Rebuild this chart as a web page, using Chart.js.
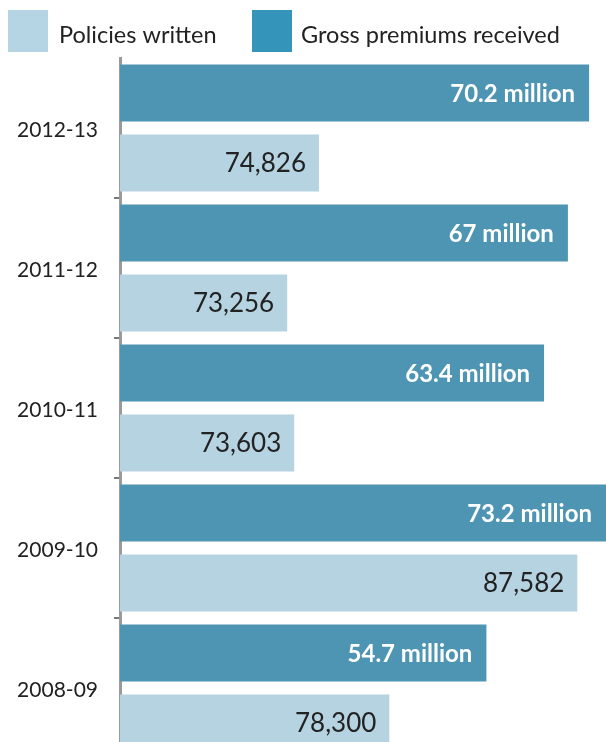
<!DOCTYPE html>
<html>
<head>
<meta charset="utf-8">
<script src="https://cdn.jsdelivr.net/npm/chart.js@4.4.1/dist/chart.umd.min.js"></script>
<style>
  html, body { margin: 0; padding: 0; background: #ffffff; overflow: hidden; }
  #wrap { position: relative; width: 606px; height: 742px; overflow: hidden; }
  canvas { display: block; }
</style>
</head>
<body>
<div id="wrap"><canvas id="c" width="606" height="758"></canvas></div>
<script>
// ---- data ----
const years = ['2012-13', '2011-12', '2010-11', '2009-10', '2008-09'];
const grossPremiumsMillion = [70.2, 67, 63.4, 73.2, 54.7];
const policiesWritten = [74826, 73256, 73603, 87582, 78300];
const seriesNames = ['Gross premiums received', 'Policies written'];
const legendOrder = ['Policies written', 'Gross premiums received'];

// ---- styles ----
const FONT = 'Lato, "Noto Sans", sans-serif';
const darkBar = '#4e95b4';
const lightBar = '#b5d3e1';
const legendColors = { 'Policies written': '#b5d5e5', 'Gross premiums received': '#3594b9' };
const DARK_MIN = -0.6;

const legendPlugin = {
  id: 'customLegend',
  afterDraw(chart) {
    const ctx = chart.ctx;
    ctx.save();
    const items = [
      { name: legendOrder[0], box: [8, 10, 40, 42], tx: 59 },
      { name: legendOrder[1], box: [252, 10, 40, 42], tx: 301 }
    ];
    ctx.font = '23.5px ' + FONT;
    ctx.textBaseline = 'alphabetic';
    ctx.textAlign = 'left';
    items.forEach(it => {
      ctx.fillStyle = legendColors[it.name];
      ctx.fillRect(it.box[0], it.box[1], it.box[2], it.box[3]);
      ctx.fillStyle = '#222222';
      ctx.fillText(it.name, it.tx, 43);
    });
    ctx.restore();
  }
};

const valueLabels = {
  id: 'valueLabels',
  afterDatasetsDraw(chart) {
    const ctx = chart.ctx;
    ctx.save();
    ctx.textAlign = 'right';
    ctx.textBaseline = 'middle';
    chart.data.datasets.forEach((ds, di) => {
      const meta = chart.getDatasetMeta(di);
      meta.data.forEach((bar, i) => {
        const v = ds.data[i];
        if (di === 0) {
          ctx.font = 'bold 24px ' + FONT;
          ctx.fillStyle = '#ffffff';
          ctx.fillText(v + ' million', Math.min(bar.x, 606) - 14, bar.y + 1);
        } else {
          ctx.font = '26px ' + FONT;
          ctx.fillStyle = '#222222';
          ctx.fillText(v.toLocaleString('en-US'), bar.x - 13, bar.y + 1);
        }
      });
    });
    ctx.restore();
  }
};

new Chart(document.getElementById('c'), {
  type: 'bar',
  data: {
    labels: years,
    datasets: [
      {
        label: seriesNames[0],
        data: grossPremiumsMillion,
        backgroundColor: darkBar,
        xAxisID: 'x2',
        base: DARK_MIN,
        borderWidth: 0
      },
      {
        label: seriesNames[1],
        data: policiesWritten,
        backgroundColor: lightBar,
        xAxisID: 'x',
        borderWidth: 0
      }
    ]
  },
  options: {
    indexAxis: 'y',
    responsive: false,
    animation: false,
    devicePixelRatio: 1,
    layout: { padding: { top: 58, left: 0, right: 0, bottom: 0 } },
    datasets: { bar: { categoryPercentage: 1.0, barPercentage: 0.814 } },
    plugins: { legend: { display: false }, tooltip: { enabled: false } },
    scales: {
      x: { type: 'linear', display: false, min: 65000, max: 89000, grid: { display: false } },
      x2: { type: 'linear', display: false, min: DARK_MIN, max: 72.75, grid: { display: false } },
      y: {
        position: 'left',
        border: { display: true, color: '#9a9a9a', width: 3 },
        grid: {
          offset: true,
          drawOnChartArea: false,
          drawTicks: true,
          tickLength: 6,
          lineWidth: 2,
          color: (c) => (c.index === undefined || c.index === 0) ? 'rgba(0,0,0,0)' : '#777777'
        },
        ticks: {
          padding: 16,
          labelOffset: 2,
          color: '#222222',
          font: { family: FONT, size: 21 }
        },
        afterFit(scale) {
          scale.width = 120;
          scale.paddingTop = 0;
          scale.paddingBottom = 0;
        }
      }
    }
  },
  plugins: [legendPlugin, valueLabels]
});
</script>
</body>
</html>
